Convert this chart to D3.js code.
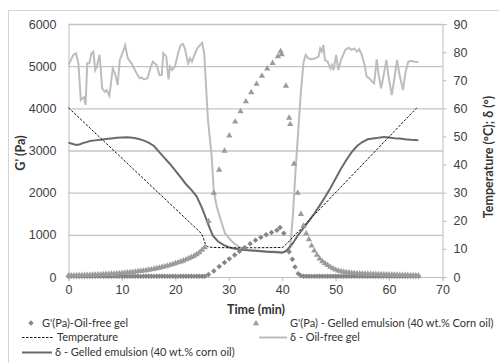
<!DOCTYPE html>
<html>
<head>
<meta charset="utf-8">
<script src="https://cdn.jsdelivr.net/npm/d3@7"></script>
<style>
  body { margin: 0; background: #fff; }
  svg { display: block; font-family: "Lato", "Open Sans", sans-serif; }
  .tick text { fill: #404040; font-size: 12.5px; }
</style>
</head>
<body>
<div id="chart"></div>
<script>
// ---- data ----
const xTicks = [0, 10, 20, 30, 40, 50, 60, 70];
const gTicks = [0, 1000, 2000, 3000, 4000, 5000, 6000];
const rTicks = [0, 10, 20, 30, 40, 50, 60, 70, 80, 90];

// cooling step, sampled every 0.5 min
const tCooling = [0, 0.5, 1, 1.5, 2, 2.5, 3, 3.5, 4, 4.5, 5, 5.5, 6, 6.5, 7, 7.5, 8, 8.5, 9, 9.5,
  10, 10.5, 11, 11.5, 12, 12.5, 13, 13.5, 14, 14.5, 15, 15.5, 16, 16.5, 17, 17.5, 18, 18.5, 19, 19.5,
  20, 20.5, 21, 21.5, 22, 22.5, 23, 23.5, 24, 24.5, 25, 25.5];
const gOilFreeCooling = [18, 16, 17, 15, 16, 18, 17, 16, 15, 17, 16, 18, 17, 16, 15, 16, 17, 18, 16, 15,
  17, 16, 15, 16, 17, 18, 16, 15, 17, 16, 18, 17, 15, 16, 17, 16, 18, 15, 16, 17,
  16, 15, 17, 18, 16, 17, 16, 15, 17, 16, 18, 20];
const gEmulsionCooling = [50, 52, 54, 56, 58, 60, 62, 64, 66, 69, 72, 75, 78, 81, 85, 88, 92, 96, 100, 105,
  110, 116, 122, 128, 135, 142, 150, 158, 167, 176, 186, 197, 209, 222, 236, 251, 267, 284, 302, 321,
  341, 362, 384, 408, 434, 461, 490, 521, 555, 600, 660, 720];

// isothermal step (10 °C), roughly one point per minute
const gOilFreeIso = [[26.2, 60], [27.2, 145], [28.2, 250], [29.2, 345], [30.1, 430], [31.1, 520],
  [32, 610], [33, 700], [34, 790], [35, 870], [36, 940], [37, 1000], [38, 1055], [39, 1110],
  [39.6, 1175], [40.3, 1040], [41.3, 600], [41.9, 420], [42.4, 240], [43, 80]];
const gEmulsionIso = [[26.2, 1340], [27.2, 2010], [28.2, 2560], [29.2, 3010], [30.1, 3370],
  [31.2, 3700], [32.2, 3945], [33.2, 4180], [34.2, 4395], [35.2, 4595], [36.2, 4790], [37.2, 4960],
  [38.2, 5090], [39.2, 5250], [39.7, 5370], [39.9, 5300], [40.7, 4550], [41.3, 3790], [41.5, 3640],
  [42.2, 2700], [42.9, 2010]];

// heating step, sampled every 0.5 min
const tHeating = [43.5, 44, 44.5, 45, 45.5, 46, 46.5, 47, 47.5, 48, 48.5, 49, 49.5, 50, 50.5, 51,
  51.5, 52, 52.5, 53, 53.5, 54, 54.5, 55, 55.5, 56, 56.5, 57, 57.5, 58, 58.5, 59, 59.5, 60, 60.5,
  61, 61.5, 62, 62.5, 63, 63.5, 64, 64.5, 65, 65.5];
const gOilFreeHeating = [30, 18, 16, 17, 15, 16, 18, 17, 16, 15, 17, 16, 18, 17, 16, 15, 16, 17, 18,
  16, 15, 17, 16, 15, 16, 17, 18, 16, 15, 17, 16, 18, 17, 15, 16, 17, 16, 18, 15, 16, 17, 16, 15, 17, 16];
const gEmulsionHeating = [1510, 1230, 1050, 910, 760, 640, 540, 455, 390, 340, 300, 255, 220, 190,
  166, 150, 138, 128, 120, 113, 107, 102, 98, 95, 92, 90, 88, 86, 84, 82, 80, 78, 76, 74, 72, 70,
  68, 66, 64, 62, 60, 58, 56, 54, 52];

const temperature = [[0, 60.2], [24.6, 16], [25, 15], [25.3, 13.5], [25.6, 11.8], [26, 10.8],
  [27, 10.5], [30, 10.4], [35, 10.4], [40, 10.5], [40.3, 10.8], [65.3, 60.4]];

const deltaOilFree = [[0, 75.5], [0.9, 79.0], [1.4, 79.6], [1.85, 76.0], [2.3, 63.0], [2.6, 63.6],
  [2.9, 63.9], [3.2, 61.2], [3.5, 76.0], [3.9, 76.0], [4.3, 79.6], [4.65, 80.2], [5.0, 73.6],
  [5.3, 74.8], [5.8, 79.0], [6.0, 74.8], [6.3, 67.1], [6.8, 65.9], [7.15, 66.5], [7.65, 64.4],
  [8.3, 74.2], [8.7, 72.5], [9.2, 68.3], [9.6, 77.2], [10.1, 79.6], [10.6, 82.5], [11.1, 77.8],
  [11.8, 76.0], [12.6, 73.0], [13.3, 70.7], [13.7, 71.0], [14.1, 70.3], [14.8, 70.7], [15.3, 74.2],
  [15.8, 76.6], [16.5, 75.4], [17.0, 71.9], [17.45, 71.9], [17.75, 79.6], [18.3, 78.4], [18.7, 70.3],
  [19.0, 74.8], [19.4, 73.6], [19.9, 74.8], [20.6, 80.2], [21.0, 82.5], [21.4, 82.9], [21.8, 81.3],
  [22.1, 78.4], [22.4, 76.0], [22.75, 77.8], [23.1, 76.6], [23.7, 79.6], [24.1, 81.3], [24.6, 82.5],
  [25.0, 83.3], [25.4, 79.6], [25.8, 66], [26.1, 56], [26.8, 42.8], [27.2, 30.3], [27.75, 25],
  [28.4, 20.9], [29.3, 15.5], [30.6, 12.6], [31.8, 10.8], [33, 9.8], [35, 9.4], [37, 9.2], [39, 9.0],
  [40, 8.9], [41, 9.2], [41.5, 10.5], [42, 22], [42.5, 38], [43, 52], [43.5, 66], [44, 76.5],
  [44.4, 79], [44.9, 77.8], [45.5, 77.5], [46.2, 77.8], [46.8, 78.4], [47.1, 81.3], [47.4, 80.2],
  [47.7, 82.5], [48, 77.2], [48.5, 76.6], [49, 74.2], [49.3, 75.4], [49.6, 73.6], [50.1, 79],
  [50.5, 73.6], [51, 77.2], [51.8, 80.8], [52.4, 81.6], [53, 80.8], [53.5, 81.3], [54, 80.2],
  [54.4, 81], [54.9, 79], [55.5, 74.8], [55.8, 71.3], [56.3, 70.7], [56.8, 69.5], [57.2, 68.9],
  [57.7, 77.4], [58, 72.5], [58.5, 67.1], [59, 71.9], [59.5, 77.2], [59.9, 71.3], [60.5, 64.7],
  [61, 70.7], [61.5, 77.2], [61.9, 72.5], [62.6, 66.5], [63.1, 73], [63.6, 76.6], [64.1, 76.8],
  [64.9, 76.6], [65.5, 76.4]];

const deltaEmulsion = [[0, 47.8], [0.5, 47.5], [1, 47.2], [1.5, 47.0], [2, 47.1], [2.5, 47.5],
  [3, 47.8], [3.5, 48.0], [4, 48.4], [5, 48.6], [6, 48.8], [7, 49.1], [8, 49.3], [9, 49.5],
  [10, 49.6], [11, 49.7], [12, 49.5], [13, 49.2], [14, 48.6], [15, 47.8], [16, 46.6], [17, 44.4],
  [18, 42.3], [19, 40.2], [20, 37.8], [21, 35.4], [22, 33.0], [23, 31.0], [24, 28.6], [25, 24.5],
  [25.5, 22], [26, 19.5], [26.5, 17], [27, 14.8], [28, 12.6], [29, 11.4], [30, 10.6], [31, 10.1],
  [32, 9.8], [33, 9.6], [34, 9.4], [35, 9.3], [36, 9.2], [37, 9.0], [38, 8.9], [39, 8.8], [40, 8.6],
  [40.5, 9.0], [41, 9.8], [42, 12], [43, 15], [44, 17.5], [45, 20], [46, 22.6], [47, 25.4],
  [48, 28.4], [49, 31.6], [50, 35], [51, 38.5], [52, 41.6], [53, 44.4], [54, 46.6], [55, 48],
  [56, 49], [57, 49.3], [58, 49.5], [59, 49.8], [60, 49.6], [61, 49.4], [62, 49.3], [63, 49],
  [64, 48.8], [65, 48.7], [65.5, 48.6]];

// ---- assemble marker series ----
const oilFreeG = tCooling.map((t, i) => [t, gOilFreeCooling[i]])
  .concat(gOilFreeIso)
  .concat(tHeating.map((t, i) => [t, gOilFreeHeating[i]]));
const emulsionG = tCooling.map((t, i) => [t, gEmulsionCooling[i]])
  .concat(gEmulsionIso)
  .concat(tHeating.map((t, i) => [t, gEmulsionHeating[i]]));

const width = 499;
const height = 363;
const plotLeft = 68.5, plotRight = 442.5, plotTop = 24, plotBottom = 277;

const svg = d3.select("#chart").append("svg")
  .attr("width", width)
  .attr("height", height);

svg.append("rect").attr("width", width).attr("height", height).attr("fill", "#fff");

// outer chart frame
svg.append("rect")
  .attr("x", 8.5).attr("y", 10.5)
  .attr("width", 520).attr("height", 380)
  .attr("fill", "none").attr("stroke", "#d4d4d4");

const x = d3.scaleLinear().domain([0, 70]).range([plotLeft, plotRight]);
const yL = d3.scaleLinear().domain([0, 6000]).range([plotBottom, plotTop]);
const yR = d3.scaleLinear().domain([0, 90]).range([plotBottom, plotTop]);

// gridlines
svg.append("g")
  .attr("transform", `translate(${plotLeft},0)`)
  .call(d3.axisLeft(yL).tickValues(gTicks.slice(1)).tickSize(-(plotRight - plotLeft)).tickFormat(""))
  .call((g) => g.select(".domain").remove())
  .call((g) => g.selectAll("line").attr("stroke", "#c4c4c4").attr("stroke-width", 1.3));

// left axis
svg.append("g")
  .attr("transform", `translate(${plotLeft},0)`)
  .call(d3.axisLeft(yL).tickValues(gTicks).tickFormat(d3.format("d")).tickSize(0).tickPadding(12))
  .call((g) => g.select(".domain").attr("stroke", "#bdbdbd"));

// bottom axis
svg.append("g")
  .attr("transform", `translate(0,${plotBottom})`)
  .call(d3.axisBottom(x).tickValues(xTicks).tickSize(4).tickPadding(4))
  .call((g) => g.select(".domain").attr("stroke", "#bdbdbd"))
  .call((g) => g.selectAll("line").attr("stroke", "#bdbdbd"));

// right axis
svg.append("g")
  .attr("transform", `translate(${plotRight},0)`)
  .call(d3.axisRight(yR).tickValues(rTicks).tickSize(4).tickPadding(7))
  .call((g) => g.select(".domain").attr("stroke", "#bdbdbd"))
  .call((g) => g.selectAll("line").attr("stroke", "#bdbdbd"));

svg.selectAll(".domain").attr("fill", "none");

// axis titles
svg.append("text")
  .attr("transform", "translate(25,153) rotate(-90)")
  .attr("text-anchor", "middle")
  .attr("font-size", 12.5).attr("font-weight", "bold").attr("fill", "#333")
  .text("G' (Pa)");

svg.append("text")
  .attr("x", 256).attr("y", 314)
  .attr("text-anchor", "middle")
  .attr("font-size", 12.5).attr("font-weight", "bold").attr("fill", "#333")
  .text("Time (min)");

svg.append("text")
  .attr("transform", "translate(493,157) rotate(-90)")
  .attr("text-anchor", "middle")
  .attr("font-size", 12.5).attr("font-weight", "bold").attr("fill", "#333")
  .text("Temperature (°C); δ (°)");

// lines
const lineR = d3.line().x((d) => x(d[0])).y((d) => yR(d[1]));

svg.append("path")
  .datum(deltaOilFree)
  .attr("d", lineR)
  .attr("fill", "none").attr("stroke", "#bdbdbd").attr("stroke-width", 2);

svg.append("path")
  .datum(deltaEmulsion)
  .attr("d", lineR)
  .attr("fill", "none").attr("stroke", "#6a6a6a").attr("stroke-width", 2);

svg.append("path")
  .datum(temperature)
  .attr("d", lineR)
  .attr("fill", "none").attr("stroke", "#111").attr("stroke-width", 1)
  .attr("stroke-dasharray", "2.5,1.5");

// markers
const diamond = d3.symbol(d3.symbolSquare, 15);
const triangle = d3.symbol(d3.symbolTriangle, 17);

svg.append("g").selectAll("path")
  .data(oilFreeG)
  .join("path")
  .attr("d", diamond)
  .attr("transform", (d) => `translate(${x(d[0])},${yL(d[1])}) rotate(45)`)
  .attr("fill", "#868686");

svg.append("g").selectAll("path")
  .data(emulsionG)
  .join("path")
  .attr("d", triangle)
  .attr("transform", (d) => `translate(${x(d[0])},${yL(d[1]) + 0.8})`)
  .attr("fill", "#9b9b9b");

// legend
const legend = svg.append("g").attr("font-size", 11).attr("fill", "#333");

legend.append("path").attr("d", diamond)
  .attr("transform", "translate(31,323) rotate(45)").attr("fill", "#868686");
legend.append("text").attr("x", 42).attr("y", 327).text("G'(Pa)-Oil-free gel");

legend.append("path").attr("d", triangle)
  .attr("transform", "translate(256,323.5)").attr("fill", "#9b9b9b");
legend.append("text").attr("x", 290).attr("y", 327).text("G'(Pa) - Gelled emulsion (40 wt.% Corn oil)");

legend.append("line").attr("x1", 22).attr("x2", 54).attr("y1", 337.5).attr("y2", 337.5)
  .attr("stroke", "#111").attr("stroke-width", 1).attr("stroke-dasharray", "2.5,1.5");
legend.append("text").attr("x", 57).attr("y", 341).text("Temperature");

legend.append("line").attr("x1", 259).attr("x2", 287).attr("y1", 337.5).attr("y2", 337.5)
  .attr("stroke", "#bdbdbd").attr("stroke-width", 2);
legend.append("text").attr("x", 290).attr("y", 341).text("δ - Oil-free gel");

legend.append("line").attr("x1", 22).attr("x2", 52).attr("y1", 352.5).attr("y2", 352.5)
  .attr("stroke", "#6a6a6a").attr("stroke-width", 2);
legend.append("text").attr("x", 55).attr("y", 356).text("δ - Gelled emulsion (40 wt.% corn oil)");
</script>
</body>
</html>
